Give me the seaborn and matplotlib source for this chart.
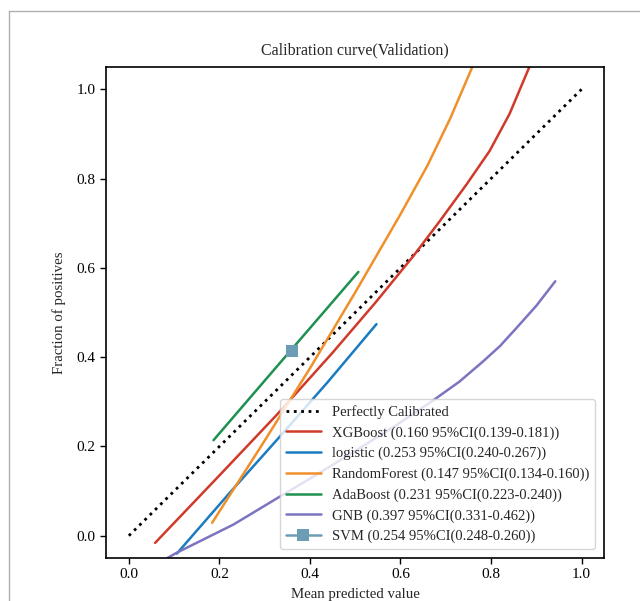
import numpy as np
import pandas as pd
import matplotlib
matplotlib.use("Agg")
import matplotlib.pyplot as plt
import seaborn as sns
from matplotlib.lines import Line2D

# -------------------------------
# 1. Curve values
# -------------------------------
xgb_x = [0.058, 0.20, 0.326, 0.45, 0.547, 0.628, 0.687, 0.746, 0.797, 0.841, 0.886, 0.91]
xgb_y = [-0.016, 0.135, 0.27, 0.41, 0.525, 0.626, 0.705, 0.787, 0.862, 0.945, 1.053, 1.11]

log_x = [0.106, 0.22, 0.33, 0.44, 0.547]
log_y = [-0.04, 0.093, 0.218, 0.345, 0.474]

rf_x = [0.184, 0.30, 0.40, 0.50, 0.60, 0.66, 0.71, 0.76, 0.78]
rf_y = [0.029, 0.213, 0.375, 0.545, 0.72, 0.83, 0.935, 1.053, 1.10]

ada_x = [0.187, 0.304, 0.40, 0.507]
ada_y = [0.214, 0.352, 0.465, 0.591]

gnb_x = [0.085, 0.106, 0.231, 0.326, 0.42, 0.50, 0.59, 0.672, 0.73, 0.782, 0.82, 0.856, 0.90, 0.942]
gnb_y = [-0.05, -0.038, 0.025, 0.083, 0.14, 0.19, 0.247, 0.303, 0.345, 0.39, 0.425, 0.465, 0.515, 0.570]

svm_x = [0.36]
svm_y = [0.414]

labels = [
    "XGBoost (0.160 95%CI(0.139-0.181))",
    "logistic (0.253 95%CI(0.240-0.267))",
    "RandomForest (0.147 95%CI(0.134-0.160))",
    "AdaBoost (0.231 95%CI(0.223-0.240))",
    "GNB (0.397 95%CI(0.331-0.462))",
    "SVM (0.254 95%CI(0.248-0.260))",
]
colors = ["#d03a2a", "#1b7bc0", "#f0902a", "#1e9050", "#7b74c0", "#6d9cb5"]

# -------------------------------
# 2. Style
# -------------------------------
sns.set_theme(style="ticks")
plt.rcParams["font.family"] = ["Liberation Serif", "DejaVu Serif"]
plt.rcParams["axes.edgecolor"] = "black"
plt.rcParams["xtick.color"] = "black"
plt.rcParams["ytick.color"] = "black"

fig = plt.figure(figsize=(6.4, 6.01), dpi=100)
ax = fig.add_axes([0.166, 0.0715, 0.778, 0.817])

# -------------------------------
# 3. Draw
# -------------------------------
ax.plot([0, 1], [0, 1], color="black", linestyle=":", linewidth=2, label="Perfectly Calibrated")

series = [(xgb_x, xgb_y), (log_x, log_y), (rf_x, rf_y), (ada_x, ada_y), (gnb_x, gnb_y)]
for (xs, ys), lab, col in zip(series, labels[:5], colors[:5]):
    df = pd.DataFrame({"x": xs, "y": ys})
    sns.lineplot(data=df, x="x", y="y", sort=False, estimator=None, ax=ax,
                 color=col, linewidth=1.8, label=lab)

svm_df = pd.DataFrame({"x": svm_x, "y": svm_y})
sns.lineplot(data=svm_df, x="x", y="y", estimator=None, ax=ax, color=colors[5],
             marker="s", markersize=9, markeredgecolor=colors[5], markeredgewidth=0,
             linewidth=1.8, label=labels[5])

ax.set_xlim(-0.05, 1.05)
ax.set_ylim(-0.05, 1.05)
ax.set_xticks([0.0, 0.2, 0.4, 0.6, 0.8, 1.0])
ax.set_yticks([0.0, 0.2, 0.4, 0.6, 0.8, 1.0])
ax.tick_params(labelsize=11, length=4, width=1)
for s in ax.spines.values():
    s.set_linewidth(1.2)
ax.set_xlabel("Mean predicted value", fontsize=10.7, labelpad=5)
ax.set_ylabel("Fraction of positives", fontsize=10.7, labelpad=8)
ax.set_title("Calibration curve(Validation)", fontsize=11.5, pad=9)

leg = ax.legend(loc="lower right", fontsize=10.5, frameon=True, framealpha=0.8,
                borderaxespad=0.6, handlelength=2.4)
leg.get_frame().set_edgecolor("#cccccc")

# grey frame of the original screenshot (top and left edges)
fig.add_artist(Line2D([9 / 640, 1.0], [1 - 11 / 601, 1 - 11 / 601],
                      transform=fig.transFigure, color="#b0b0b0", linewidth=1))
fig.add_artist(Line2D([9 / 640, 9 / 640], [0.0, 1 - 11 / 601],
                      transform=fig.transFigure, color="#b0b0b0", linewidth=1))

plt.savefig("out.png", dpi=100)
